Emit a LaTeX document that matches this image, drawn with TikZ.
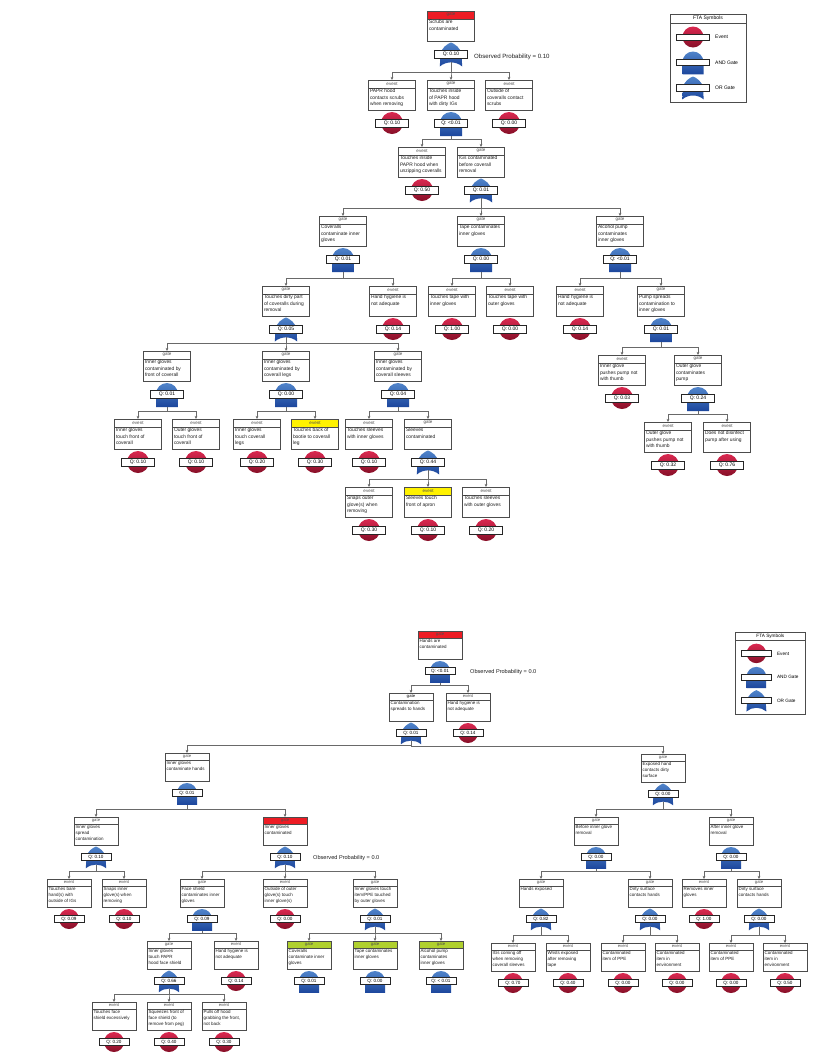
\documentclass[tikz,border=0pt]{standalone}
\usepackage{fontspec}
\setmainfont{Liberation Sans}
\usetikzlibrary{arrows.meta}
\definecolor{hred}{RGB}{237,28,36}
\definecolor{hyel}{RGB}{255,242,0}
\definecolor{hgrn}{RGB}{176,208,46}
\definecolor{evtop}{RGB}{218,40,80}
\definecolor{evbot}{RGB}{135,16,40}
\definecolor{gtop}{RGB}{80,132,202}
\definecolor{gbot}{RGB}{28,70,156}
\definecolor{lin}{RGB}{105,105,105}
\definecolor{txt}{RGB}{30,30,30}
% size parameters (top tree)
\def\ftW{47}\def\ftH{30}\def\ftHH{8}\def\ftR{11}\def\ftSY{13}\def\ftQW{33}\def\ftQH{8}
\newcommand\ftbody{\fontsize{4.9}{6.3}\selectfont}
\newcommand\fthdr{\fontsize{4.5}{5}\selectfont}
\newcommand\ftq{\fontsize{5}{5}\selectfont}
\tikzset{
  ftanchor/.style={inner sep=0pt,outer sep=0pt,minimum width=\ftW*1pt,minimum height=\ftH*1pt,anchor=north},
  boxline/.style={draw=black!70,line width=0.55pt},
  hdrtext/.style={font=\fthdr,text=black!70,inner sep=0pt},
  bodytext/.style={font=\ftbody,align=left,inner sep=0pt,text=txt,anchor=north west},
  qbox/.style={draw=black!85,line width=0.55pt,fill=white,inner sep=0pt,minimum width=\ftQW*1pt,minimum height=\ftQH*1pt,font=\ftq},
  conn/.style={draw=lin,line width=0.7pt,-{Stealth[length=3.2pt,width=2.8pt]}},
  obs/.style={anchor=west,inner sep=0pt,text=txt},
  legline/.style={draw=black!70,line width=0.55pt},
}
\newcommand\ftsymE{\shade[top color=evtop,bottom color=evbot] (0,0) circle[radius=11];\def\ftsb{11}}
\newcommand\ftsymA{\shade[top color=gtop,bottom color=gbot] (-11,0) .. controls (-11,-6.07) and (-6.07,-11) .. (0,-11) .. controls (6.07,-11) and (11,-6.07) .. (11,0) -- (11,13) -- (-11,13) -- cycle;\def\ftsb{13}}
\newcommand\ftsymO{\shade[top color=gtop,bottom color=gbot] (0,-11.5) .. controls (3,-10.5) and (10.5,-6) .. (10.5,1) -- (11.2,12.5) .. controls (5,7) and (-5,7) .. (-11.2,12.5) -- (-10.5,1) .. controls (-10.5,-6) and (-3,-10.5) .. (0,-11.5) -- cycle;\def\ftsb{8.4}}
\newcommand\FT[8]{%
  \pgfmathsetmacro\ftc{#3+\ftH+\ftSY}%
  \node[ftanchor] (#1) at (#2,#3) {};
  \fill[#5] ({#2-\ftW/2},#3) rectangle ({#2+\ftW/2},{#3+\ftHH});
  \draw[boxline] ({#2-\ftW/2},#3) rectangle ({#2+\ftW/2},{#3+\ftH});
  \draw[boxline] ({#2-\ftW/2},{#3+\ftHH}) -- ({#2+\ftW/2},{#3+\ftHH});
  \node[hdrtext] (#1h) at (#2,{#3+\ftHH/2}) {#4};
  \node[bodytext] (#1t) at ({#2-\ftW/2+1.3},{#3+\ftHH+1.1}) {#6};
  \begin{scope}[shift={(#2,\ftc)},scale=\ftR/11]
    \csname ftsym#7\endcsname
    \coordinate (#1s) at (0,\ftsb);
  \end{scope}
  \node[qbox] (#1q) at (#2,\ftc) {#8};
}
\newcommand\CN[2]{\foreach \ch in {#2}{\draw[conn] (#1s) |- ([yshift=8pt]\ch.north) -- (\ch.north);}}
\newcommand\LEG[5]{% name x y scale fontsize
  \begin{scope}[shift={(#2,#3)},scale=#4]
    \fill[white] (0,0) rectangle (76,88);
    \draw[legline] (0,0) rectangle (76,88);
    \draw[legline] (0,9) -- (76,9);
    \node[inner sep=0pt,font=\fontsize{#5}{#5}\selectfont] (#1t) at (38,4.7) {FTA Symbols};
    \begin{scope}[shift={(23,23)},scale=10.5/11]\ftsymE\end{scope}
    \filldraw[fill=white,draw=black!85,line width=0.5pt] (6.5,20) rectangle (39.5,26.5);
    \node[inner sep=0pt,anchor=west,font=\fontsize{#5}{#5}\selectfont] (#1e) at (45,23.3) {Event};
    \begin{scope}[shift={(23,48)},scale=10.5/11]\ftsymA\end{scope}
    \filldraw[fill=white,draw=black!85,line width=0.5pt] (6.5,45) rectangle (39.5,51.5);
    \node[inner sep=0pt,anchor=west,font=\fontsize{#5}{#5}\selectfont] (#1a) at (45,48.3) {AND Gate};
    \begin{scope}[shift={(23,73.5)},scale=10.5/11]\ftsymO\end{scope}
    \filldraw[fill=white,draw=black!85,line width=0.5pt] (6.5,70.5) rectangle (39.5,77);
    \node[inner sep=0pt,anchor=west,font=\fontsize{#5}{#5}\selectfont] (#1o) at (45,73.8) {OR Gate};
  \end{scope}}
\begin{document}
\begin{tikzpicture}[x=1pt,y=-1pt]
\fill[white] (0,0) rectangle (814,1058);
\useasboundingbox (0,0) rectangle (814,1058);

% ================= TOP TREE =================
\FT{t0}{451}{11}{gate}{hred}{Scrubs are\\contaminated}{O}{Q: 0.10}
\node[obs,font=\fontsize{6.1}{7}\selectfont] (op1) at (474,57) {Observed Probability = 0.10};
\FT{t1a}{392}{80}{event}{white}{PAPR hood\\contacts scrubs\\when removing}{E}{Q: 0.10}
\FT{t1b}{451}{80}{gate}{white}{Touches inside\\of PAPR hood\\with dirty IGs}{A}{Q: <0.01}
\FT{t1c}{509}{80}{event}{white}{Outside of\\coveralls contact\\scrubs}{E}{Q: 0.00}
\FT{t2a}{422}{147}{event}{white}{Touches inside\\PAPR hood when\\unzipping coveralls}{E}{Q: 0.50}
\FT{t2b}{481}{147}{gate}{white}{IGs contaminated\\before coverall\\removal}{O}{Q: 0.01}
\FT{t3a}{343}{216}{gate}{white}{Coveralls\\contaminate inner\\gloves}{A}{Q: 0.01}
\FT{t3b}{481}{216}{gate}{white}{Tape contaminates\\inner gloves}{A}{Q: 0.00}
\FT{t3c}{620}{216}{gate}{white}{Alcohol pump\\contaminates\\inner gloves}{A}{Q: <0.01}
\FT{t4a}{286}{286}{gate}{white}{Touches dirty part\\of coveralls during\\removal}{O}{Q: 0.05}
\FT{t4b}{393}{286}{event}{white}{Hand hygiene is\\not adequate}{E}{Q: 0.14}
\FT{t4c}{452}{286}{event}{white}{Touches tape with\\inner gloves}{E}{Q: 1.00}
\FT{t4d}{510}{286}{event}{white}{Touches tape with\\outer gloves}{E}{Q: 0.00}
\FT{t4e}{580}{286}{event}{white}{Hand hygiene is\\not adequate}{E}{Q: 0.14}
\FT{t4f}{661}{286}{gate}{white}{Pump spreads\\contamination to\\inner gloves}{A}{Q: 0.01}
\FT{t5a}{167}{351}{gate}{white}{Inner gloves\\contaminated by\\front of coverall}{A}{Q: 0.01}
\FT{t5b}{286}{351}{gate}{white}{Inner gloves\\contaminated by\\coverall legs}{A}{Q: 0.00}
\FT{t5c}{398}{351}{gate}{white}{Inner gloves\\contaminated by\\coverall sleeves}{A}{Q: 0.04}
\FT{t5d}{622}{355}{event}{white}{Inner glove\\pushes pump not\\with thumb}{E}{Q: 0.03}
\FT{t5e}{698}{355}{gate}{white}{Outer glove\\contaminates\\pump}{A}{Q: 0.24}
\FT{t6a}{138}{419}{event}{white}{Inner gloves\\touch front of\\coverall}{E}{Q: 0.10}
\FT{t6b}{196}{419}{event}{white}{Outer gloves\\touch front of\\coverall}{E}{Q: 0.10}
\FT{t6c}{257}{419}{event}{white}{Inner gloves\\touch coverall\\legs}{E}{Q: 0.20}
\FT{t6d}{315}{419}{event}{hyel}{Touches back of\\bootie to coverall\\leg}{E}{Q: 0.30}
\FT{t6e}{369}{419}{event}{white}{Touches sleeves\\with inner gloves}{E}{Q: 0.10}
\FT{t6f}{428}{419}{gate}{white}{Sleeves\\contaminated}{O}{Q: 0.44}
\FT{t6g}{668}{422}{event}{white}{Outer glove\\pushes pump not\\with thumb}{E}{Q: 0.32}
\FT{t6h}{727}{422}{event}{white}{Does not disinfect\\pump after using}{E}{Q: 0.76}
\FT{t7a}{369}{487}{event}{white}{Snaps outer\\glove(s) when\\removing}{E}{Q: 0.30}
\FT{t7b}{428}{487}{event}{hyel}{Sleeves touch\\front of apron}{E}{Q: 0.10}
\FT{t7c}{486}{487}{event}{white}{Touches sleeves\\with outer gloves}{E}{Q: 0.20}

\CN{t0}{t1a,t1b,t1c}
\CN{t1b}{t2a,t2b}
\CN{t2b}{t3a,t3b,t3c}
\CN{t3a}{t4a,t4b}
\CN{t3b}{t4c,t4d}
\CN{t3c}{t4e,t4f}
\CN{t4a}{t5a,t5b,t5c}
\CN{t4f}{t5d,t5e}
\CN{t5a}{t6a,t6b}
\CN{t5b}{t6c,t6d}
\CN{t5c}{t6e,t6f}
\CN{t5e}{t6g,t6h}
\CN{t6f}{t7a,t7b,t7c}

\LEG{lg1}{670}{14}{1}{5}

% ================= BOTTOM TREE =================
\def\ftW{44}\def\ftH{28}\def\ftHH{7}\def\ftR{10}\def\ftSY{12}\def\ftQW{30}\def\ftQH{7}
\renewcommand\ftbody{\fontsize{4.5}{5.8}\selectfont}
\renewcommand\fthdr{\fontsize{4.2}{4.6}\selectfont}
\renewcommand\ftq{\fontsize{4.6}{4.6}\selectfont}

\FT{b0}{440}{631}{gate}{hred}{Hands are\\contaminated}{A}{Q: <0.01}
\node[obs,font=\fontsize{5.6}{6.5}\selectfont] (op2) at (470,672) {Observed Probability = 0.0};
\FT{b1a}{411}{693}{\textbf{gate}}{white}{Contamination\\spreads to hands}{O}{Q: 0.01}
\FT{b1b}{468}{693}{event}{white}{Hand hygiene is\\not adequate}{E}{Q: 0.14}
\FT{b2a}{187}{753}{gate}{white}{Inner gloves\\contaminate hands}{A}{Q: 0.01}
\FT{b2b}{663}{754}{gate}{white}{Exposed hand\\contacts dirty\\surface}{O}{Q: 0.00}
\FT{b3a}{96}{817}{gate}{white}{Inner gloves\\spread\\contamination}{O}{Q: 0.10}
\FT{b3b}{285}{817}{gate}{hred}{Inner gloves\\contaminated}{O}{Q: 0.10}
\node[obs,font=\fontsize{5.6}{6.5}\selectfont] (op3) at (313,858) {Observed Probability = 0.0};
\FT{b3c}{596}{817}{gate}{white}{Before inner glove\\removal}{A}{Q: 0.00}
\FT{b3d}{731}{817}{gate}{white}{After inner glove\\removal}{A}{Q: 0.00}
\FT{b4a}{69}{879}{event}{white}{Touches bare\\hand(s) with\\outside of IGs}{E}{Q: 0.09}
\FT{b4b}{124}{879}{event}{white}{Snaps inner\\glove(s) when\\removing}{E}{Q: 0.10}
\FT{b4c}{202}{879}{gate}{white}{Face shield\\contaminates inner\\gloves}{A}{Q: 0.09}
\FT{b4d}{285}{879}{event}{white}{Outside of outer\\glove(s) touch\\inner glove(s)}{E}{Q: 0.00}
\FT{b4e}{375}{879}{gate}{white}{Inner gloves touch\\item/PPE touched\\by outer gloves}{O}{Q: 0.01}
\FT{b4f}{541}{879}{gate}{white}{Hands exposed}{O}{Q: 0.82}
\FT{b4g}{650}{879}{gate}{white}{Dirty surface\\contacts hands}{O}{Q: 0.00}
\FT{b4h}{704}{879}{event}{white}{Removes inner\\gloves}{E}{Q: 1.00}
\FT{b4i}{759}{879}{gate}{white}{Dirty surface\\contacts hands}{O}{Q: 0.00}
\FT{b5a}{169}{941}{gate}{white}{Inner gloves\\touch PAPR\\hood face shield}{O}{Q: 0.66}
\FT{b5b}{236}{941}{event}{white}{Hand hygiene is\\not adequate}{E}{Q: 0.14}
\FT{b5c}{309}{941}{gate}{hgrn}{Coveralls\\contaminate inner\\gloves}{A}{Q: 0.01}
\FT{b5d}{375}{941}{gate}{hgrn}{Tape contaminates\\inner gloves}{A}{Q: 0.00}
\FT{b5e}{441}{941}{gate}{hgrn}{Alcohol pump\\contaminates\\inner gloves}{A}{Q: < 0.01}
\FT{b5f}{513}{943}{event}{white}{IGs coming off\\when removing\\coverall sleeves}{E}{Q: 0.70}
\FT{b5g}{568}{943}{event}{white}{Wrists exposed\\after removing\\tape}{E}{Q: 0.40}
\FT{b5h}{623}{943}{event}{white}{Contaminated\\item of PPE}{E}{Q: 0.00}
\FT{b5i}{677}{943}{event}{white}{Contaminated\\item in\\environment}{E}{Q: 0.00}
\FT{b5j}{731}{943}{event}{white}{Contaminated\\item of PPE}{E}{Q: 0.00}
\FT{b5k}{785}{943}{event}{white}{Contaminated\\item in\\environment}{E}{Q: 0.50}
\FT{b6a}{114}{1002}{event}{white}{Touches face\\shield excessively}{E}{Q: 0.20}
\FT{b6b}{169}{1002}{event}{white}{Squeezes front of\\face shield (to\\remove from peg)}{E}{Q: 0.40}
\FT{b6c}{224}{1002}{event}{white}{Pulls off hood\\grabbing the front,\\not back}{E}{Q: 0.30}

\CN{b0}{b1a,b1b}
\CN{b1a}{b2a,b2b}
\CN{b2a}{b3a,b3b}
\CN{b2b}{b3c,b3d}
\CN{b3a}{b4a,b4b}
\CN{b3b}{b4c,b4d,b4e}
\CN{b3c}{b4f,b4g}
\CN{b3d}{b4h,b4i}
\CN{b4c}{b5a,b5b}
\CN{b4e}{b5c,b5d,b5e}
\CN{b4f}{b5f,b5g}
\CN{b4g}{b5h,b5i}
\CN{b4i}{b5j,b5k}
\CN{b5a}{b6a,b6b,b6c}

\LEG{lg2}{735}{632}{0.93}{4.7}
\end{tikzpicture}
\end{document}
